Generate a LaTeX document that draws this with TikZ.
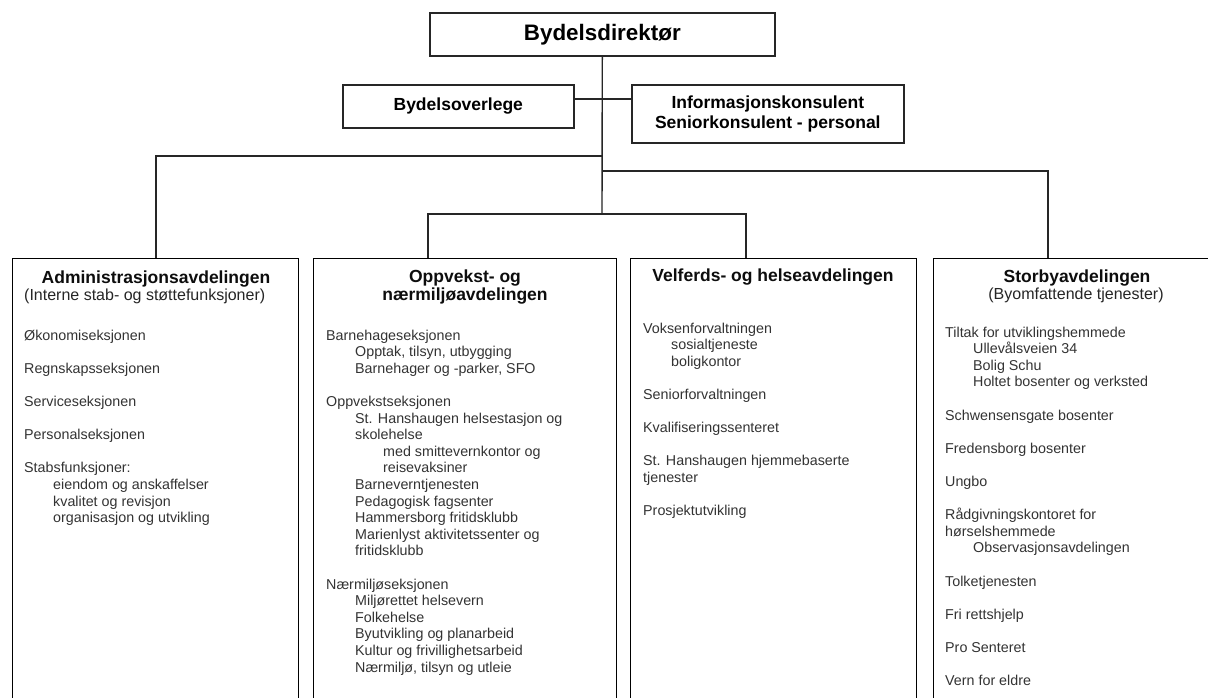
\documentclass[tikz,border=0pt]{standalone}
\usepackage{fontspec}
\setmainfont{Liberation Sans}
\begin{document}
\begin{tikzpicture}[x=1pt,y=-1pt,
  box/.style={draw=black!85, line width=1.6pt, rectangle, inner sep=0pt, anchor=north west, align=center, text=black},
  col/.style={draw=black, line width=1.4pt, rectangle, inner sep=0pt, anchor=north west},
  conn/.style={draw=black!85, line width=1.4pt},
  hd/.style={font=\fontsize{17.5}{18.3}\selectfont\bfseries, inner sep=0pt, anchor=base, text=black!95},
  sub/.style={font=\fontsize{16}{18}\selectfont, inner sep=0pt, text=black!85},
  bodytext/.style={font=\fontsize{14.3}{16.6}\selectfont, inner sep=0pt, anchor=base west, text=black!80},
]
\useasboundingbox (0,0) rectangle (1208,697);
\clip (0,0) rectangle (1208,697);
\fill[white] (0,0) rectangle (1208,697);

% top boxes
\node[box, minimum width=345pt, minimum height=43pt, font=\fontsize{22.4}{24}\selectfont\bfseries] (dir) at (429,12) {Bydelsdirektør};
\node[box, minimum width=231pt, minimum height=43pt, font=\fontsize{17.5}{19}\selectfont\bfseries] (overlege) at (342,84) {Bydelsoverlege};
\node[box, minimum width=272pt, minimum height=58pt, font=\fontsize{17.5}{19.5}\selectfont\bfseries] (info) at (631,84) {Informasjonskonsulent\\Seniorkonsulent - personal};

% column boxes
\node[col, minimum width=286pt, minimum height=470pt] (admin) at (12,258) {};
\node[col, minimum width=303pt, minimum height=470pt] (oppv) at (313,258) {};
\node[col, minimum width=286pt, minimum height=470pt] (velf) at (630,258) {};
\node[col, minimum width=288pt, minimum height=470pt] (storby) at (933,258) {};

% junctions
\coordinate (jA) at (602,156);
\coordinate (jS) at (602,171);
\coordinate (jM) at (602,214);
\coordinate (jAdm) at (156,156);
\coordinate (jSto) at (1048,171);
\coordinate (jOpp) at (428,214);
\coordinate (jVel) at (746,214);
\coordinate (jO) at (602,99);

% connectors
\draw[conn] (dir.south) -- (jM);
\draw[conn] (overlege.east |- jO) -- (info.west |- jO);
\draw[conn] (jA) -- (jAdm) -- (jAdm |- admin.north);
\draw[conn] (jS) -- (jSto) -- (jSto |- storby.north);
\draw[conn] (jOpp |- oppv.north) -- (jOpp) -- (jVel) -- (jVel |- velf.north);

% headers
\node[hd] (admhd) at (156,283) {Administrasjonsavdelingen};
\node[sub, anchor=base west] (admsub) at (24,300) {(Interne stab- og støttefunksjoner)};
\node[hd] (opphd) at (465,282) {\begin{tabular}[t]{@{}c@{}}Oppvekst- og\\nærmiljøavdelingen\end{tabular}};
\node[hd] (velhd) at (773,281) {Velferds- og helseavdelingen};
\node[hd] (stohd) at (1077,282) {Storbyavdelingen};
\node[sub, anchor=base] (stosub) at (1076,299) {(Byomfattende tjenester)};

% bodies
\node[bodytext] (admbody) at (24,340) {\begin{tabular}[t]{@{}l@{}}
Økonomiseksjonen\\ \\
Regnskapsseksjonen\\ \\
Serviceseksjonen\\ \\
Personalseksjonen\\ \\
Stabsfunksjoner:\\
\hspace*{29pt}eiendom og anskaffelser\\
\hspace*{29pt}kvalitet og revisjon\\
\hspace*{29pt}organisasjon og utvikling
\end{tabular}};

\node[bodytext] (oppbody) at (326,340) {\begin{tabular}[t]{@{}l@{}}
Barnehageseksjonen\\
\hspace*{29pt}Opptak, tilsyn, utbygging\\
\hspace*{29pt}Barnehager og -parker, SFO\\ \\
Oppvekstseksjonen\\
\hspace*{29pt}St. Hanshaugen helsestasjon og\\
\hspace*{29pt}skolehelse\\
\hspace*{57pt}med smittevernkontor og\\
\hspace*{57pt}reisevaksiner\\
\hspace*{29pt}Barneverntjenesten\\
\hspace*{29pt}Pedagogisk fagsenter\\
\hspace*{29pt}Hammersborg fritidsklubb\\
\hspace*{29pt}Marienlyst aktivitetssenter og\\
\hspace*{29pt}fritidsklubb\\ \\
Nærmiljøseksjonen\\
\hspace*{29pt}Miljørettet helsevern\\
\hspace*{29pt}Folkehelse\\
\hspace*{29pt}Byutvikling og planarbeid\\
\hspace*{29pt}Kultur og frivillighetsarbeid\\
\hspace*{29pt}Nærmiljø, tilsyn og utleie
\end{tabular}};

\node[bodytext] (velbody) at (643,333) {\begin{tabular}[t]{@{}l@{}}
Voksenforvaltningen\\
\hspace*{28pt}sosialtjeneste\\
\hspace*{28pt}boligkontor\\ \\
Seniorforvaltningen\\ \\
Kvalifiseringssenteret\\ \\
St. Hanshaugen hjemmebaserte\\
tjenester\\ \\
Prosjektutvikling
\end{tabular}};

\node[bodytext] (stobody) at (945,337) {\begin{tabular}[t]{@{}l@{}}
Tiltak for utviklingshemmede\\
\hspace*{28pt}Ullevålsveien 34\\
\hspace*{28pt}Bolig Schu\\
\hspace*{28pt}Holtet bosenter og verksted\\ \\
Schwensensgate bosenter\\ \\
Fredensborg bosenter\\ \\
Ungbo\\ \\
Rådgivningskontoret for\\
hørselshemmede\\
\hspace*{28pt}Observasjonsavdelingen\\ \\
Tolketjenesten\\ \\
Fri rettshjelp\\ \\
Pro Senteret\\ \\
Vern for eldre
\end{tabular}};
\end{tikzpicture}
\end{document}
